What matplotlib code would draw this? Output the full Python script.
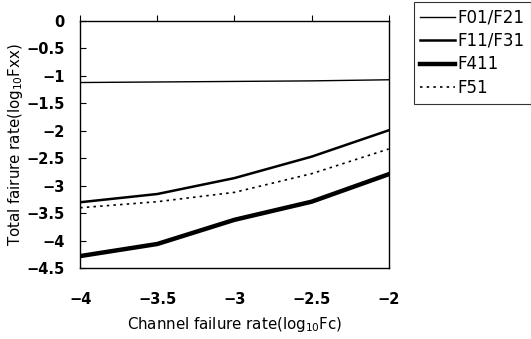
import matplotlib
matplotlib.use("Agg")
import matplotlib.pyplot as plt

# ── Data ─────────────────────────────────────────────────────────────────────
log_fc = [-4, -3.5, -3, -2.5, -2]
f01_f21 = [-1.12, -1.11, -1.10, -1.09, -1.07]
f11_f31 = [-3.30, -3.15, -2.86, -2.47, -1.99]
f411 = [-4.28, -4.06, -3.62, -3.29, -2.79]
f51 = [-3.40, -3.29, -3.12, -2.78, -2.33]

x_ticks = [-4, -3.5, -3, -2.5, -2]
y_ticks = [0, -0.5, -1, -1.5, -2, -2.5, -3, -3.5, -4, -4.5]

plt.rcParams['font.family'] = ['DejaVu Sans']

def fmt(v):
    s = f"{v:g}"
    return s.replace('-', '\u2212')

fig = plt.figure(figsize=(5.31, 3.39), dpi=100)
ax = fig.add_axes([0.151, 0.209, 0.581, 0.729])

ax.plot(log_fc, f01_f21, color='black', lw=1.0, label='F01/F21')
ax.plot(log_fc, f11_f31, color='black', lw=1.8, label='F11/F31')
ax.plot(log_fc, f411, color='black', lw=3.2, label='F411')
ax.plot(log_fc, f51, color='black', lw=1.2, ls=(0, (1.5, 2.5)), label='F51')

ax.set_xlim(-4, -2)
ax.set_ylim(-4.5, 0)
ax.set_xticks(x_ticks)
ax.set_xticklabels([fmt(v) for v in x_ticks], fontweight='bold')
ax.set_yticks(y_ticks)
ax.set_yticklabels([fmt(v) for v in y_ticks], fontweight='bold')
ax.tick_params(axis='x', top=True, bottom=False, labelbottom=True,
               direction='out', length=4, pad=13, labelsize=10.5)
ax.tick_params(axis='y', direction='in', length=4, pad=11, labelsize=10.5)
for s in ax.spines.values():
    s.set_linewidth(1.0)

ax.set_xlabel(r'Channel failure rate(log$_{10}$Fc)', fontsize=10.8,
              fontweight='medium', labelpad=6)
ax.set_ylabel(r'Total fairure rate(log$_{10}$Fxx)', fontsize=10.8,
              fontweight='medium', labelpad=1)

leg = fig.legend(loc='upper left', bbox_to_anchor=(0.779, 0.995),
                 borderaxespad=0, frameon=True, fancybox=False,
                 prop={'size': 12, 'weight': 'medium'},
                 handlelength=2.1, handletextpad=0.1, labelspacing=0.33,
                 borderpad=0.4)
leg.get_frame().set_edgecolor('black')
leg.get_frame().set_linewidth(0.8)

plt.savefig("out.png", dpi=100)
